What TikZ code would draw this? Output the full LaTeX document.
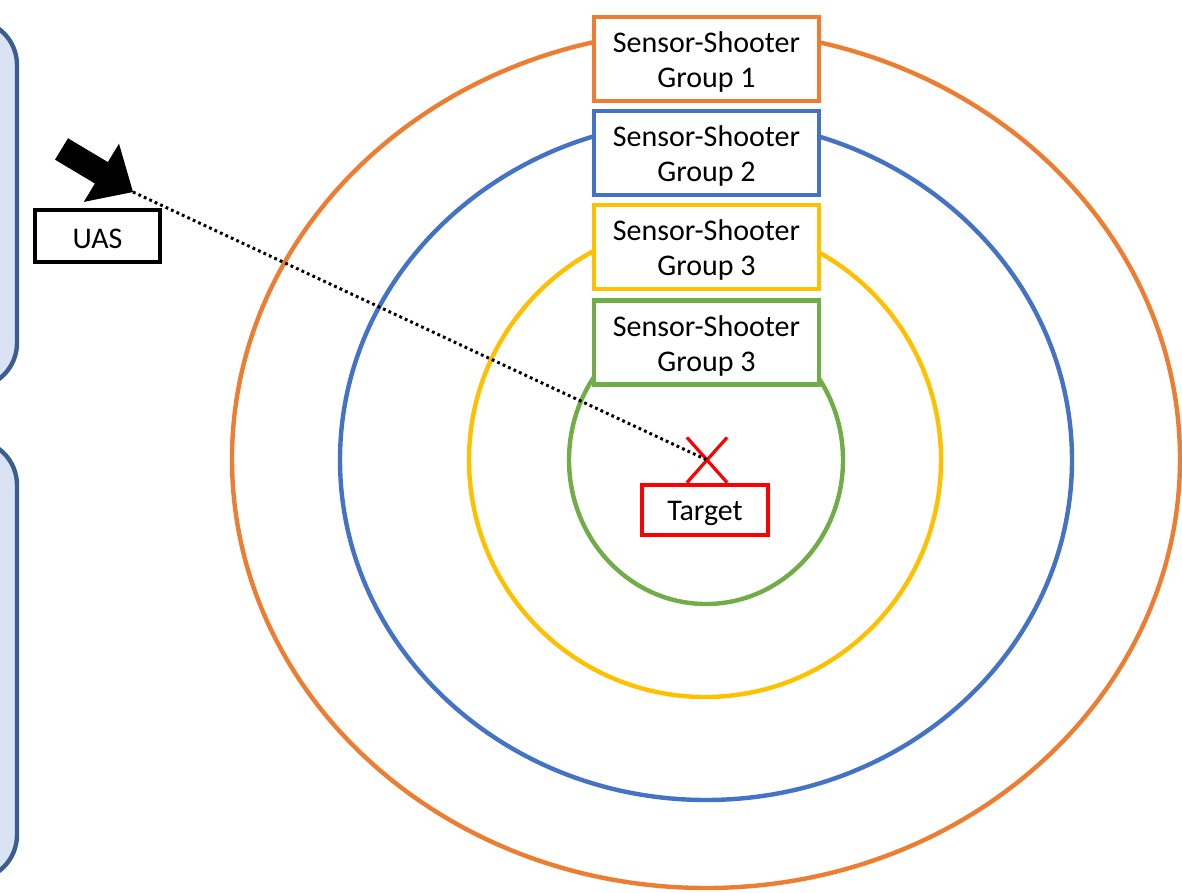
\documentclass[tikz,border=0pt]{standalone}
\usepackage{fontspec}
\setmainfont{Carlito}
\usetikzlibrary{shapes.misc}
\definecolor{corange}{HTML}{ED7D31}
\definecolor{cblue}{HTML}{4472C4}
\definecolor{cyellow}{HTML}{FFC000}
\definecolor{cgreen}{HTML}{70AD47}
\definecolor{leftfill}{HTML}{DAE3F3}
\definecolor{leftdraw}{HTML}{3A5F8E}
\tikzset{
  ring/.style={line width=4.4pt},
  groupbox/.style={draw=#1, fill=white, line width=4.4pt, minimum width=225pt, minimum height=84pt, inner sep=0pt},
  labelbox/.style={draw=#1, fill=white, line width=4.4pt, inner sep=0pt},
  boxtext/.style={align=center, font=\fontsize{30pt}{35pt}\selectfont, inner sep=0pt},
  sidepanel/.style={draw=leftdraw, fill=leftfill, line width=4.4pt, rounded corners=45pt},
  dotpath/.style={line width=3pt, dash pattern=on 2.8pt off 3.2pt},
}
\begin{document}
\begin{tikzpicture}[x={(1pt,0)}, y={(0,-1pt)}]
\useasboundingbox (0,0) rectangle (1182,893);
% left panels
\draw[sidepanel] (-120,20) rectangle (17,388);
\draw[sidepanel] (-120,440) rectangle (17,880);
% rings
\draw[ring, corange] (706,459) ellipse [x radius=474pt, y radius=429pt];
\draw[ring, cblue] (706,460) ellipse [x radius=366pt, y radius=340pt];
\draw[ring, cyellow] (705,460) ellipse [x radius=236pt, y radius=237pt];
\draw[ring, cgreen] (706,460) ellipse [x radius=137pt, y radius=144pt];
% group boxes
\node[groupbox=corange] (g1) at (706.5,59) {};
\node[groupbox=cblue] (g2) at (706.5,153) {};
\node[groupbox=cyellow] (g3) at (706.5,247) {};
\node[groupbox=cgreen] (g4) at (706.5,342.5) {};
\node[boxtext] (g1t) at ([yshift=-3pt]g1.center) {Sensor-Shooter\\Group 1};
\node[boxtext] (g2t) at ([yshift=-3pt]g2.center) {Sensor-Shooter\\Group 2};
\node[boxtext] (g3t) at ([yshift=-3pt]g3.center) {Sensor-Shooter\\Group 3};
\node[boxtext] (g4t) at ([yshift=-3pt]g4.center) {Sensor-Shooter\\Group 3};
% target
\node[labelbox=red, minimum width=126pt, minimum height=50pt] (target) at (705,510) {};
\node[boxtext] (targett) at ([yshift=-3pt]target.center) {Target};
\node[cross out, draw=red, line width=3.2pt, minimum width=37pt, minimum height=42pt, inner sep=0pt] (x) at (707,460) {};
% UAS
\node[labelbox=black, minimum width=125pt, minimum height=52pt] (uas) at (97.5,236) {};
\node[boxtext] (uast) at ([yshift=-3pt]uas.center) {UAS};
\coordinate (uastip) at (133,192);
\fill[black] (68,138.3) -- (107.9,162.1) -- (119,143.7) -- (uastip) -- (83.8,201.9) -- (94.9,183.5) -- (55,159.7) -- cycle;
\draw[dotpath] (uastip) -- (x.center);
\end{tikzpicture}
\end{document}
